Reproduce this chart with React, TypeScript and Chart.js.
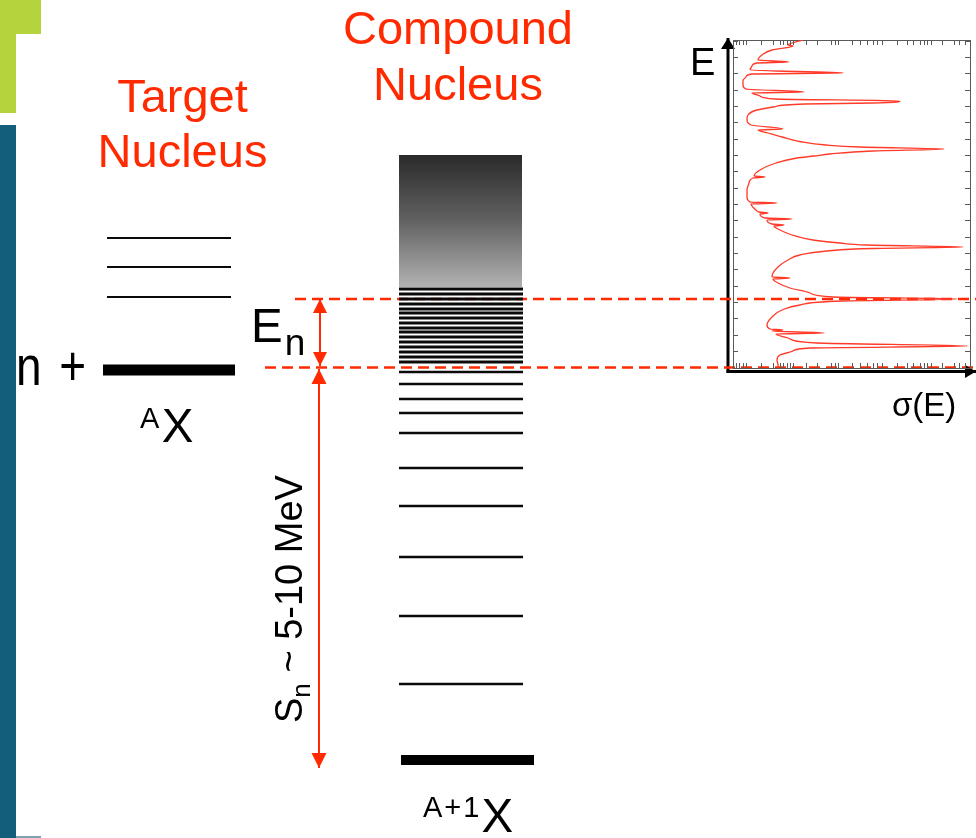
import React, { useEffect, useRef } from 'react';
import { Chart, registerables } from 'chart.js';

Chart.register(...registerables);

// ---------- DATA (energies in MeV, compound-nucleus ground state = 0) ----------
const separationEnergy = 7.85; // S_n : n + AX threshold (lower dashed line)
const resonanceEnergy = 9.22; // E_n : upper dashed line
const targetExcitedLevels = [10.44, 9.86, 9.26];
const targetGroundLevel = 7.8;
const compoundDenseLevels = [9.42, 9.32, 9.22, 9.12, 9.02, 8.94, 8.84, 8.74, 8.64, 8.56, 8.46, 8.36, 8.26, 8.16, 8.06, 7.96];
const compoundBoundLevels = [7.76, 7.52, 7.22, 6.94, 6.54, 5.84, 5.08, 4.06, 2.88, 1.52];
const compoundGroundLevel = 0;
const continuumRange = [9.46, 12.1];
const enArrowRange = [9.22, 7.88];
const snArrowRange = [7.82, -0.16];

// sigma(E) inset curve: energy (MeV) and cross-section (arb. units)
const curveEnergy = [
  14.4, 14.3, 14.28, 14.2, 14.1, 14.0, 13.96, 13.94, 13.88, 13.8, 13.74, 13.72, 13.66, 13.6, 13.5, 13.42, 13.36, 13.34, 13.28, 13.22,
  13.18, 13.14, 13.12, 13.06, 13.0, 12.9, 12.8, 12.7, 12.62, 12.6, 12.54, 12.46, 12.36, 12.3, 12.26, 12.22, 12.18, 12.12, 12.08, 12.04,
  11.94, 11.8, 11.68, 11.66, 11.64, 11.54, 11.4, 11.26, 11.16, 11.14, 11.12, 11.0, 10.96, 10.94, 10.92, 10.84, 10.82, 10.8, 10.72, 10.7,
  10.68, 10.6, 10.5, 10.4, 10.34, 10.3, 10.26, 10.23, 10.18, 10.1, 10.0, 9.86, 9.74, 9.66, 9.64, 9.62, 9.54, 9.44, 9.34, 9.26,
  9.22, 9.18, 9.1, 9.0, 8.86, 8.7, 8.62, 8.6, 8.58, 8.54, 8.52, 8.44, 8.34, 8.28, 8.24, 8.18, 8.1, 8.0, 7.9, 7.85,
];
const curveSigma = [
  70, 55, 60, 39, 29, 25, 56, 24, 19, 17, 110, 19, 13, 10, 10, 13, 71, 19, 27, 42,
  167, 140, 72, 40, 24, 15, 14, 18, 50, 25, 35, 49, 69, 93, 127, 211, 140, 97, 81, 64,
  43, 27, 21, 32, 20, 16, 14, 14, 17, 44, 18, 23, 26, 35, 27, 32, 59, 34, 39, 51,
  41, 47, 59, 80, 107, 134, 230, 140, 94, 67, 55, 45, 40, 39, 57, 40, 45, 57, 77, 100,
  224, 110, 67, 49, 39, 34, 37, 50, 39, 91, 43, 55, 84, 235, 77, 60, 47, 44, 45, 45,
];
const sigmaTicks = [3, 6, 10, 13, 28, 40, 47, 50, 54, 57, 60, 73, 84, 98, 102, 105, 119, 127, 134, 140, 144, 149, 164, 174, 180, 187, 191, 194, 198, 209, 221, 226, 232];
const energyTickStart = 7.85;
const energyTickStep = 0.3267;
const energyTickCount = 21;

// ---------- STYLE / LAYOUT ----------
const FONT = '"Liberation Sans", Arial, Helvetica, sans-serif';
const RED = '#ff2a00';
const TITLE_RED = '#ff2a00';
const BLACK = '#0a0a0a';

const arrowHeads = {
  id: 'arrowHeads',
  afterDatasetsDraw(chart: any) {
    const ctx = chart.ctx;
    chart.data.datasets.forEach((ds: any, i: number) => {
      if (!ds.arrow) return;
      const pts = chart.getDatasetMeta(i).data;
      if (!pts || pts.length < 2) return;
      const draw = (tip: any, from: any) => {
        const ang = Math.atan2(tip.y - from.y, tip.x - from.x);
        const L = ds.arrow.length;
        const W = ds.arrow.width / 2;
        const bx = tip.x - L * Math.cos(ang);
        const by = tip.y - L * Math.sin(ang);
        ctx.save();
        ctx.fillStyle = ds.borderColor;
        ctx.beginPath();
        ctx.moveTo(tip.x, tip.y);
        ctx.lineTo(bx + W * Math.sin(ang), by - W * Math.cos(ang));
        ctx.lineTo(bx - W * Math.sin(ang), by + W * Math.cos(ang));
        ctx.closePath();
        ctx.fill();
        ctx.restore();
      };
      const a = pts[0];
      const b = pts[pts.length - 1];
      if (ds.arrow.end) draw(b, a);
      if (ds.arrow.start) draw(a, b);
    });
  },
};

const innerTicks = {
  id: 'innerTicks',
  afterDraw(chart: any) {
    const { ctx, chartArea: a } = chart;
    ctx.save();
    ctx.strokeStyle = '#5a5a5a';
    ctx.lineWidth = 1;
    Object.values(chart.scales).forEach((s: any) => {
      s.ticks.forEach((t: any) => {
        const p = Math.round(s.getPixelForValue(t.value)) + 0.5;
        ctx.beginPath();
        if (s.position === 'bottom') { ctx.moveTo(p, a.bottom); ctx.lineTo(p, a.bottom - 5); }
        else if (s.position === 'top') { ctx.moveTo(p, a.top); ctx.lineTo(p, a.top + 5); }
        else if (s.position === 'left') { ctx.moveTo(a.left, p); ctx.lineTo(a.left + 5, p); }
        else { ctx.moveTo(a.right, p); ctx.lineTo(a.right - 5, p); }
        ctx.stroke();
      });
    });
    ctx.restore();
  },
};

const seg = (x0: number, x1: number, y0: number, y1: number, color: string, width: number, extra: any = {}) => ({
  data: [{ x: x0, y: y0 }, { x: x1, y: y1 }],
  borderColor: color,
  borderWidth: width,
  pointRadius: 0,
  pointHoverRadius: 0,
  fill: false,
  tension: 0,
  ...extra,
});

function mainConfig(): any {
  const datasets: any[] = [];
  datasets.push({
    data: [{ x: 399, y: continuumRange[1] }, { x: 522, y: continuumRange[1] }],
    borderColor: 'rgba(0,0,0,0)',
    borderWidth: 0.01,
    pointRadius: 0,
    fill: { value: continuumRange[0] },
    backgroundColor: (c: any) => {
      const chart = c.chart;
      const ys = chart.scales && chart.scales.y;
      if (!ys || !chart.chartArea) return '#777';
      const g = chart.ctx.createLinearGradient(0, ys.getPixelForValue(continuumRange[1]), 0, ys.getPixelForValue(continuumRange[0]));
      g.addColorStop(0, '#2a2a2a');
      g.addColorStop(0.5, '#626262');
      g.addColorStop(1, '#b2b2b2');
      return g;
    },
  });
  targetExcitedLevels.forEach((e) => datasets.push(seg(107, 231, e, e, BLACK, 2)));
  datasets.push(seg(103, 235, targetGroundLevel, targetGroundLevel, '#000', 11));
  compoundDenseLevels.forEach((e) => datasets.push(seg(399, 523, e, e, BLACK, 3)));
  compoundBoundLevels.forEach((e) => datasets.push(seg(399, 523, e, e, BLACK, 2.6)));
  datasets.push(seg(401, 534, compoundGroundLevel, compoundGroundLevel, '#000', 10));
  datasets.push(seg(295, 976, resonanceEnergy, resonanceEnergy, RED, 2.5, { borderDash: [11, 6] }));
  datasets.push(seg(265, 976, separationEnergy, separationEnergy, RED, 2.5, { borderDash: [11, 6] }));
  datasets.push(seg(320, 320, enArrowRange[0], enArrowRange[1], RED, 2, { arrow: { start: true, end: true, length: 14, width: 14 } }));
  datasets.push(seg(319, 319, snArrowRange[0], snArrowRange[1], RED, 2, { arrow: { start: true, end: true, length: 15, width: 15 } }));
  // inset axes (E up, sigma right)
  datasets.push(seg(728, 728, 7.74, 14.44, '#000', 3, { arrow: { end: true, length: 11, width: 14 } }));
  datasets.push(seg(726.5, 976, 7.77, 7.77, '#000', 3, { arrow: { end: true, length: 11, width: 13 } }));

  return {
    type: 'line',
    data: { datasets },
    options: {
      responsive: false,
      animation: false,
      devicePixelRatio: 1,
      events: [],
      layout: { padding: 0 },
      plugins: { legend: { display: false }, tooltip: { enabled: false }, title: { display: false } },
      scales: {
        x: { type: 'linear', min: 0, max: 976, display: false },
        y: { type: 'linear', min: -1.56, max: 15.2, display: false },
      },
    },
    plugins: [arrowHeads],
  };
}

function insetConfig(): any {
  const axisBase = {
    ticks: { display: false },
    grid: { drawOnChartArea: false, drawTicks: false },
    border: { display: true, color: '#5a5a5a', width: 1 },
  };
  const sigmaAxis = (position: string) => ({
    ...axisBase,
    type: 'linear',
    position,
    min: 0,
    max: 237,
    afterBuildTicks: (ax: any) => { ax.ticks = sigmaTicks.map((v) => ({ value: v })); },
  });
  const energyAxis = (position: string) => ({
    ...axisBase,
    type: 'linear',
    position,
    min: 7.84,
    max: 14.4,
    afterBuildTicks: (ax: any) => {
      const t: any[] = [];
      for (let k = 0; k < energyTickCount; k++) t.push({ value: energyTickStart + k * energyTickStep });
      ax.ticks = t;
    },
  });
  return {
    type: 'line',
    data: {
      datasets: [{
        data: curveEnergy.map((e, i) => ({ x: curveSigma[i], y: e })),
        borderColor: '#ff3a28',
        borderWidth: 1.3,
        pointRadius: 0,
        pointHoverRadius: 0,
        cubicInterpolationMode: 'monotone',
        fill: false,
        xAxisID: 'x',
        yAxisID: 'y',
      }],
    },
    options: {
      indexAxis: 'y',
      responsive: false,
      animation: false,
      devicePixelRatio: 1,
      events: [],
      layout: { padding: { left: 33, right: 6, top: 40, bottom: 470 } },
      plugins: { legend: { display: false }, tooltip: { enabled: false } },
      scales: {
        x: sigmaAxis('bottom'),
        xTop: sigmaAxis('top'),
        y: energyAxis('left'),
        yRight: energyAxis('right'),
      },
    },
    plugins: [innerTicks],
  };
}

function Label({ x, base, size, color = '#000', center = false, children, style = {} }: any) {
  return (
    <div
      style={{
        position: 'absolute',
        left: x,
        top: base - 0.8465 * size,
        fontSize: size,
        lineHeight: `${size}px`,
        color,
        whiteSpace: 'nowrap',
        fontFamily: FONT,
        transform: center ? 'translateX(-50%)' : undefined,
        ...style,
      }}
    >
      {children}
    </div>
  );
}

export default function App() {
  const mainRef = useRef<HTMLCanvasElement>(null);
  const insetRef = useRef<HTMLCanvasElement>(null);

  useEffect(() => {
    const main = new Chart(mainRef.current as HTMLCanvasElement, mainConfig());
    const inset = new Chart(insetRef.current as HTMLCanvasElement, insetConfig());
    return () => {
      main.destroy();
      inset.destroy();
    };
  }, []);

  return (
    <div style={{ position: 'fixed', left: 0, top: 0, width: 976, height: 838, background: '#fff', overflow: 'hidden', fontFamily: FONT }}>
      {/* slide decoration */}
      <div style={{ position: 'absolute', left: 0, top: 0, width: 41, height: 34, background: '#b5d33d' }} />
      <div style={{ position: 'absolute', left: 0, top: 34, width: 16, height: 79, background: '#b5d33d' }} />
      <div style={{ position: 'absolute', left: 0, top: 125, width: 16, height: 713, background: '#135e7b' }} />
      <div style={{ position: 'absolute', left: 16, top: 836, width: 25, height: 2, background: '#7fa2b0' }} />

      <canvas ref={mainRef} width={976} height={838} style={{ position: 'absolute', left: 0, top: 0, width: 976, height: 838 }} />
      <canvas ref={insetRef} width={276} height={838} style={{ position: 'absolute', left: 700, top: 0, width: 276, height: 838 }} />

      {/* titles */}
      <Label x={182.5} base={112} size={47} color={TITLE_RED} center>Target</Label>
      <Label x={182.5} base={167} size={47} color={TITLE_RED} center>Nucleus</Label>
      <Label x={458} base={44} size={47} color={TITLE_RED} center>Compound</Label>
      <Label x={458} base={100} size={47} color={TITLE_RED} center>Nucleus</Label>

      {/* level labels */}
      <Label x={16} base={385} size={56} style={{ transform: 'scaleX(0.82)', transformOrigin: '0 0', wordSpacing: 6 }}>n +</Label>
      <Label x={251} base={342} size={47.5}>
        E<span style={{ fontSize: 37, lineHeight: 1, position: 'relative', top: 13, marginLeft: 2 }}>n</span>
      </Label>
      <Label x={140} base={442} size={47.5}>
        <span style={{ fontSize: 29, lineHeight: 1, position: 'relative', top: -14 }}>A</span>
        <span style={{ marginLeft: 2.5 }}>X</span>
      </Label>
      <Label x={423} base={832} size={47.5}>
        <span style={{ fontSize: 29, lineHeight: 1, letterSpacing: 2, position: 'relative', top: -15 }}>A+1</span>
        <span>X</span>
      </Label>

      {/* rotated S_n label */}
      <div style={{ position: 'absolute', left: 302, top: 723, width: 0, height: 0, transform: 'rotate(-90deg)', transformOrigin: '0 0' }}>
        <div style={{ position: 'absolute', left: 0, top: -0.8465 * 38, fontSize: 38, lineHeight: '38px', whiteSpace: 'nowrap', fontFamily: FONT, color: '#000' }}>
          S<span style={{ fontSize: 26, lineHeight: 1, position: 'relative', top: 8 }}>n</span>{' ~ 5-10 MeV'}
        </div>
      </div>

      {/* inset axis labels */}
      <Label x={690} base={75} size={38}>E</Label>
      <Label x={892} base={416} size={33}>σ(E)</Label>
    </div>
  );
}
